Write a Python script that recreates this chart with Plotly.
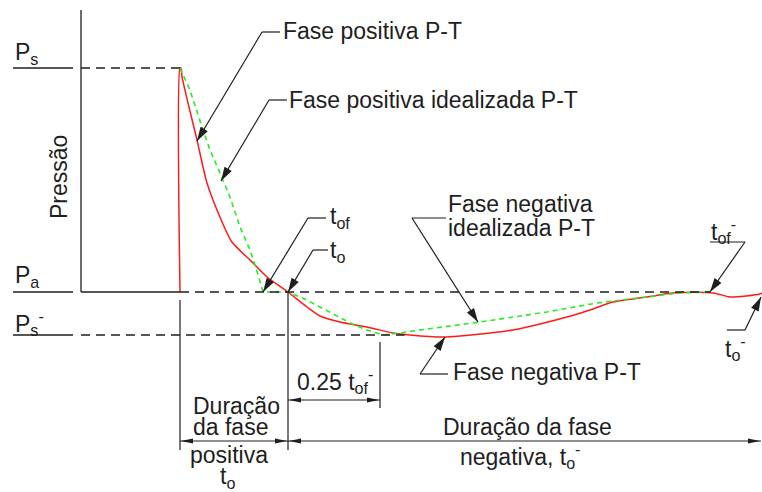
import math
import plotly.graph_objects as go

W, H = 762, 492

# Normalised quantities: time as t / t_o, pressure as (P - P_a) / (P_s - P_a)
P_S = 1.0
P_A = 0.0
P_S_NEG = -0.192

T_A = 0.0
T_OF = 0.769
T_O = 1.0
T_QUARTER = 1.852
T_OF_NEG = 4.907
T_O_NEG = 5.389

# Measured pressure-time history (positive + negative phase)
t_real = [0.0, 0.0, 0.009, 0.019, 0.074, 0.157, 0.250, 0.370, 0.481, 0.648, 0.806, 1.0,
          1.176, 1.296, 1.481, 1.731, 1.972, 2.130, 2.435, 2.870, 3.083, 3.333, 3.583,
          3.824, 4.009, 4.324, 4.565, 4.935, 5.093, 5.370, 5.389]
p_real = [0.0, 1.0, 1.0, 0.960, 0.844, 0.679, 0.487, 0.335, 0.223, 0.143, 0.067, 0.0,
          -0.067, -0.107, -0.134, -0.156, -0.183, -0.192, -0.201, -0.183, -0.170, -0.143, -0.112,
          -0.076, -0.045, -0.022, -0.004, -0.004, -0.022, -0.009, -0.004]

# Idealised pressure-time history
t_ideal = [0.0, 0.093, 0.204, 0.278, 0.370, 0.463, 0.556, 0.648, 0.710, 0.769, 1.0,
           1.176, 1.296, 1.574, 1.731, 1.880, 2.037, 2.157, 2.778, 3.398, 3.861, 4.324, 4.630, 4.907]
p_ideal = [1.0, 0.900, 0.737, 0.634, 0.531, 0.424, 0.290, 0.188, 0.098, 0.0, 0.0,
           -0.036, -0.067, -0.138, -0.170, -0.192, -0.183, -0.174, -0.134, -0.089, -0.049, -0.022, -0.004, 0.0]

X_RANGE = [-1.6667, 5.3889]
Y_RANGE = [-0.8929, 1.3036]

INK = "#1e1e1e"
FONT = "Liberation Sans, Arial, sans-serif"
FS = 23


def dx(xp):
    return X_RANGE[0] + xp / W * (X_RANGE[1] - X_RANGE[0])


def dy(yp):
    return Y_RANGE[1] - yp / H * (Y_RANGE[1] - Y_RANGE[0])


def to_px(t, p):
    return ((t - X_RANGE[0]) / (X_RANGE[1] - X_RANGE[0]) * W,
            (Y_RANGE[1] - p) / (Y_RANGE[1] - Y_RANGE[0]) * H)


shapes = []


def seg(x0, y0, x1, y1, width=1.2, dash=None, color=INK):
    line = dict(color=color, width=width)
    if dash:
        line["dash"] = dash
    shapes.append(dict(type="line", xref="x", yref="y", x0=x0, y0=y0, x1=x1, y1=y1,
                       line=line, layer="above"))


def head(tip, tail, length, half):
    (x1, y1), (x0, y0) = tip, tail
    L = math.hypot(x1 - x0, y1 - y0)
    ux, uy = (x1 - x0) / L, (y1 - y0) / L
    bx, by = x1 - ux * length, y1 - uy * length
    nx, ny = -uy, ux
    pts = [(x1, y1), (bx + nx * half, by + ny * half), (bx - nx * half, by - ny * half)]
    path = "M " + " L ".join(f"{dx(x):.5f},{dy(y):.5f}" for x, y in pts) + " Z"
    shapes.append(dict(type="path", xref="x", yref="y", path=path,
                       fillcolor=INK, line=dict(width=0), layer="above"))


def leader(elbow, end, tip):
    # horizontal shoulder + diagonal arrow, all in pixel layout
    seg(dx(elbow[0]), dy(elbow[1]), dx(end[0]), dy(end[1]), width=1.2)
    seg(dx(elbow[0]), dy(elbow[1]), dx(tip[0]), dy(tip[1]), width=1.2)
    head(tip, elbow, 14, 4.2)


def dimension(xa, xb, yp):
    seg(dx(xa), dy(yp), dx(xb), dy(yp), width=1.2)
    head((xa + 1, yp), (xb, yp), 12, 2.6)
    head((xb - 1, yp), (xa, yp), 12, 2.6)


# pressure axis and its level marks
x_axis_px = 81
seg(dx(x_axis_px), dy(10), dx(x_axis_px), P_A, width=1.3)
seg(dx(x_axis_px), P_A, T_A, P_A, width=1.3)
for lvl in (P_S, P_A, P_S_NEG):
    seg(dx(13), lvl, dx(73), lvl, width=1.3)

# dashed reference levels
DASH = "9px,6px"
seg(dx(x_axis_px), P_S, T_A, P_S, width=1.3, dash=DASH)
seg(T_A, P_A, T_OF_NEG, P_A, width=1.3, dash=DASH)
seg(dx(x_axis_px), P_S_NEG, 2.08, P_S_NEG, width=1.3, dash=DASH)

# extension lines for the duration dimensions
seg(T_A, dy(300), T_A, dy(450), width=1.2)
seg(T_O, P_A, T_O, dy(450), width=1.2)
xq = to_px(T_QUARTER, 0)[0]
seg(dx(xq), dy(342), dx(xq), dy(408), width=1.2)

# dimension arrows
x_arr = to_px(T_A, 0)[0]
x_o = to_px(T_O, 0)[0]
x_end = to_px(T_O_NEG, 0)[0]
dimension(x_o, xq, 400)
dimension(x_arr, x_o, 441)
dimension(x_o, x_end - 1, 441)

# leaders with arrows
leader((262, 32), (280, 32), (197, 141))
leader((269, 100), (287, 100), (221, 181))
leader((308, 218), (326, 218), to_px(T_OF, P_A))
leader((313, 250), (328, 250), to_px(T_O, P_A))
leader((412, 218), (446, 218), (478, 322))
leader((420, 374), (448, 374), (445, 337))
leader((745, 242), (710, 242), to_px(T_OF_NEG, P_A))
leader((745, 330), (727, 330), (761, 297))

fig = go.Figure()
fig.add_trace(go.Scatter(x=t_real, y=p_real, mode="lines",
                         line=dict(color="#ff1a1a", width=1.5, shape="spline", smoothing=0.7),
                         hoverinfo="skip"))
fig.add_trace(go.Scatter(x=t_ideal, y=p_ideal, mode="lines",
                         line=dict(color="#22ee22", width=1.6, dash="5px,4px"), hoverinfo="skip"))

annotations = []


def label(xp, yp, text, anchor="left", angle=0):
    annotations.append(dict(x=dx(xp), y=dy(yp), xref="x", yref="y", text=text,
                            showarrow=False, xanchor=anchor, yanchor="middle",
                            textangle=angle, font=dict(family=FONT, size=FS, color=INK)))


label(13, 53, "P<sub>s</sub>")
label(13, 276, "P<sub>a</sub>")
label(13, 323, "P<sub>s</sub><sup>-</sup>")
label(59, 177, "Pressão", anchor="center", angle=-90)
label(281, 31, "Fase positiva P-T")
label(287, 100, "Fase positiva idealizada P-T")
label(328, 217, "t<sub>of</sub>")
label(328, 251, "t<sub>o</sub>")
label(446, 204, "Fase negativa")
label(446, 228, "idealizada P-T")
label(451, 372, "Fase negativa P-T")
label(709, 231, "t<sub>of</sub><sup>-</sup>")
label(723, 348, "t<sub>o</sub><sup>-</sup>")
label(295, 381, "0.25 t<sub>of</sub><sup>-</sup>")
label(191, 406, "Duração")
label(191, 427, "da fase")
label(229, 455, "positiva", anchor="center")
label(227, 477, "t<sub>o</sub>", anchor="center")
label(527, 427, "Duração da fase", anchor="center")
label(520, 456, "negativa, t<sub>o</sub><sup>-</sup>", anchor="center")

fig.update_layout(
    width=W, height=H,
    margin=dict(l=0, r=0, t=0, b=0),
    paper_bgcolor="white", plot_bgcolor="white",
    showlegend=False, hovermode=False,
    xaxis=dict(range=X_RANGE, visible=False, fixedrange=True),
    yaxis=dict(range=Y_RANGE, visible=False, fixedrange=True),
    shapes=shapes, annotations=annotations,
)

fig.write_html("out.html", config={"displayModeBar": False})
